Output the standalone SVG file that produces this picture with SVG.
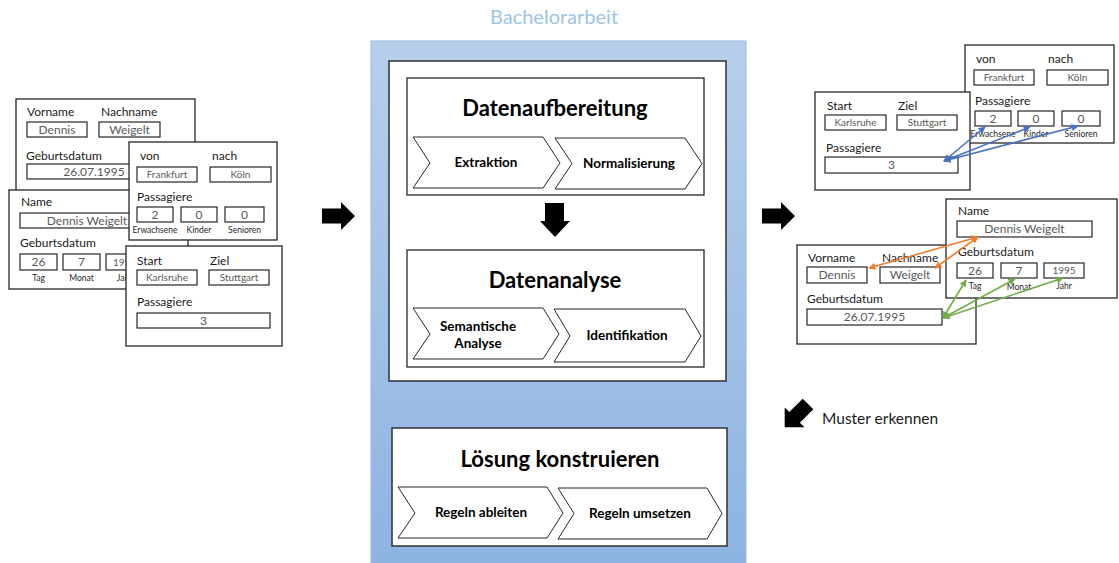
<svg xmlns="http://www.w3.org/2000/svg" width="1119" height="563" viewBox="0 0 1119 563">
  <defs>
    <linearGradient id="panelFill" x1="0" y1="0" x2="0" y2="1">
      <stop offset="0" stop-color="#b7cfeb"/>
      <stop offset="1" stop-color="#8db3e2"/>
    </linearGradient>
    <marker id="headBlue" viewBox="0 0 10 10" refX="9" refY="5" markerWidth="8" markerHeight="7" markerUnits="userSpaceOnUse" orient="auto-start-reverse">
      <path d="M0,0 L10,5 L0,10 z" fill="#4472c4"/>
    </marker>
    <marker id="headOrange" viewBox="0 0 10 10" refX="9" refY="5" markerWidth="8" markerHeight="7" markerUnits="userSpaceOnUse" orient="auto-start-reverse">
      <path d="M0,0 L10,5 L0,10 z" fill="#ed7d31"/>
    </marker>
    <marker id="headGreen" viewBox="0 0 10 10" refX="9" refY="5" markerWidth="8" markerHeight="7" markerUnits="userSpaceOnUse" orient="auto-start-reverse">
      <path d="M0,0 L10,5 L0,10 z" fill="#70ad47"/>
    </marker>
    <path id="blockArrow" d="M-17,-7.5 H2 V-14 L16,0 L2,14 V7.5 H-17 Z"/>
  </defs>
  <style>
    text { font-family: Lato, "Noto Sans", "Liberation Sans", sans-serif; }
    .form { fill: #ffffff; stroke: #262626; stroke-width: 1.3; }
    .fld { fill: #ffffff; stroke: #262626; stroke-width: 1.2; }
    .lbl { font-size: 12px; fill: #1a1a1a; }
    .val { font-size: 12px; fill: #595959; text-anchor: middle; }
    .sval { font-size: 10px; fill: #595959; text-anchor: middle; }
    .tiny { font-size: 8.5px; fill: #262626; text-anchor: middle; }
    .stage { fill: #ffffff; stroke: #3a3a3a; stroke-width: 1.6; }
    .box { fill: #ffffff; stroke: #262626; stroke-width: 1.3; }
    .chev { fill: #ffffff; stroke: #262626; stroke-width: 1; }
    .title { font-size: 22px; font-weight: bold; fill: #000000; text-anchor: middle; }
    .step { font-size: 13.5px; font-weight: bold; fill: #000000; text-anchor: middle; }
    .blk { fill: #000000; }
    .cblue { stroke: #4472c4; stroke-width: 1.6; fill: none; marker-start: url(#headBlue); marker-end: url(#headBlue); }
    .corange { stroke: #ed7d31; stroke-width: 1.6; fill: none; marker-start: url(#headOrange); marker-end: url(#headOrange); }
    .cgreen { stroke: #70ad47; stroke-width: 1.6; fill: none; marker-start: url(#headGreen); marker-end: url(#headGreen); }
  </style>

  <rect width="1119" height="563" fill="#ffffff"/>

  <!-- ===== Input records (left) ===== -->
  <g id="in-person-split">
    <rect class="form" x="16" y="99" width="179" height="98"/>
    <text class="lbl" x="27" y="116">Vorname</text>
    <text class="lbl" x="101" y="116">Nachname</text>
    <rect class="fld" x="27" y="122" width="60" height="15"/>
    <text class="val" x="57" y="134">Dennis</text>
    <rect class="fld" x="99" y="122" width="61" height="15"/>
    <text class="val" x="129.5" y="134">Weigelt</text>
    <text class="lbl" x="26" y="160">Geburtsdatum</text>
    <rect class="fld" x="27" y="164" width="134" height="15"/>
    <text class="val" x="94" y="176">26.07.1995</text>
  </g>

  <g id="in-person-joined">
    <rect class="form" x="9" y="190" width="179" height="99"/>
    <text class="lbl" x="21" y="206">Name</text>
    <rect class="fld" x="20" y="213" width="134" height="15"/>
    <text class="val" x="87" y="225">Dennis Weigelt</text>
    <text class="lbl" x="20" y="247">Geburtsdatum</text>
    <rect class="fld" x="20" y="254" width="37" height="16"/>
    <text class="val" x="38.5" y="266">26</text>
    <rect class="fld" x="63" y="254" width="37" height="16"/>
    <text class="val" x="81.5" y="266">7</text>
    <rect class="fld" x="106" y="254" width="37" height="16"/>
    <text class="sval" x="124.5" y="266">1995</text>
    <text class="tiny" x="38.5" y="281">Tag</text>
    <text class="tiny" x="81.5" y="281">Monat</text>
    <text class="tiny" x="124.5" y="281">Jahr</text>
  </g>

  <g id="in-trip-split">
    <rect class="form" x="129" y="142" width="148" height="98"/>
    <text class="lbl" x="140" y="160">von</text>
    <text class="lbl" x="212" y="160">nach</text>
    <rect class="fld" x="137" y="167" width="60" height="15"/>
    <text class="sval" x="167" y="178">Frankfurt</text>
    <rect class="fld" x="210" y="167" width="61" height="15"/>
    <text class="sval" x="240.5" y="178">Köln</text>
    <text class="lbl" x="137" y="201">Passagiere</text>
    <rect class="fld" x="137" y="207" width="36" height="15"/>
    <text class="val" x="155" y="219">2</text>
    <rect class="fld" x="181" y="207" width="36" height="15"/>
    <text class="val" x="199" y="219">0</text>
    <rect class="fld" x="225" y="207" width="39" height="15"/>
    <text class="val" x="244.5" y="219">0</text>
    <text class="tiny" x="155" y="233">Erwachsene</text>
    <text class="tiny" x="199" y="233">Kinder</text>
    <text class="tiny" x="244.5" y="233">Senioren</text>
  </g>

  <g id="in-trip-total">
    <rect class="form" x="126" y="246" width="156" height="100"/>
    <text class="lbl" x="137" y="265">Start</text>
    <text class="lbl" x="210" y="265">Ziel</text>
    <rect class="fld" x="137" y="270" width="60" height="15"/>
    <text class="sval" x="167" y="281">Karlsruhe</text>
    <rect class="fld" x="209" y="270" width="60" height="15"/>
    <text class="sval" x="239" y="281">Stuttgart</text>
    <text class="lbl" x="137" y="306">Passagiere</text>
    <rect class="fld" x="137" y="313" width="133" height="15"/>
    <text class="val" x="203.5" y="325">3</text>
  </g>

  <use href="#blockArrow" class="blk" transform="translate(339,216)"/>

  <!-- ===== Thesis panel (centre) ===== -->
  <g id="thesis">
    <text x="554" y="24" font-size="20" fill="#9dc3e6" text-anchor="middle">Bachelorarbeit</text>
    <rect x="371" y="41" width="375" height="530" fill="url(#panelFill)" stroke="#9db8dc" stroke-width="1"/>
  </g>

  <g id="stage-analysis">
    <rect class="stage" x="389" y="61" width="337" height="320"/>
  </g>

  <g id="preparation">
    <rect class="box" x="407" y="78" width="297" height="117"/>
    <text class="title" x="555" y="116">Datenaufbereitung</text>
    <polygon class="chev" points="413,137 543,137 560,163 543,188 413,188 430,163"/>
    <text class="step" x="486" y="167">Extraktion</text>
    <polygon class="chev" points="555,138 685,138 702,163.5 685,189 555,189 572,163.5"/>
    <text class="step" x="629" y="168">Normalisierung</text>
  </g>

  <path class="blk" d="M545,203 H564 V221 H570 L555,237 L540,221 H545 Z"/>

  <g id="analysis">
    <rect class="box" x="407" y="250" width="297" height="117"/>
    <text class="title" x="555" y="288">Datenanalyse</text>
    <polygon class="chev" points="413,308 543,308 559,334 543,359 413,359 430,334"/>
    <text class="step" x="478" y="331">Semantische</text>
    <text class="step" x="478" y="348">Analyse</text>
    <polygon class="chev" points="554,309 685,309 701,336 685,362 554,362 570,336"/>
    <text class="step" x="627" y="340">Identifikation</text>
  </g>

  <g id="construction">
    <rect class="stage" x="392" y="428" width="335" height="118"/>
    <text class="title" x="560" y="467">Lösung konstruieren</text>
    <polygon class="chev" points="398,487 547,487 563,513 547,538 398,538 415,513"/>
    <text class="step" x="481" y="517">Regeln ableiten</text>
    <polygon class="chev" points="558,488 707,488 722,513.5 707,539 558,539 574,513.5"/>
    <text class="step" x="640" y="518">Regeln umsetzen</text>
  </g>

  <use href="#blockArrow" class="blk" transform="translate(779,216)"/>

  <!-- ===== Output records (right) ===== -->
  <g id="out-trip-split">
    <rect class="form" x="965" y="45" width="149" height="98"/>
    <text class="lbl" x="976" y="63">von</text>
    <text class="lbl" x="1048" y="63">nach</text>
    <rect class="fld" x="974" y="70" width="60" height="15"/>
    <text class="sval" x="1004" y="81">Frankfurt</text>
    <rect class="fld" x="1047" y="70" width="61" height="15"/>
    <text class="sval" x="1077.5" y="81">Köln</text>
    <text class="lbl" x="975" y="105">Passagiere</text>
    <rect class="fld" x="975" y="111" width="36" height="15"/>
    <text class="val" x="993" y="123">2</text>
    <rect class="fld" x="1018" y="111" width="36" height="15"/>
    <text class="val" x="1036" y="123">0</text>
    <rect class="fld" x="1062" y="111" width="38" height="15"/>
    <text class="val" x="1081" y="123">0</text>
    <text class="tiny" x="993" y="137">Erwachsene</text>
    <text class="tiny" x="1036" y="137">Kinder</text>
    <text class="tiny" x="1081" y="137">Senioren</text>
  </g>

  <g id="out-trip-total">
    <rect class="form" x="815" y="92" width="155" height="98"/>
    <text class="lbl" x="827" y="110">Start</text>
    <text class="lbl" x="898" y="110">Ziel</text>
    <rect class="fld" x="825" y="115" width="61" height="15"/>
    <text class="sval" x="855.5" y="126">Karlsruhe</text>
    <rect class="fld" x="897" y="115" width="60" height="15"/>
    <text class="sval" x="927" y="126">Stuttgart</text>
    <text class="lbl" x="826" y="152">Passagiere</text>
    <rect class="fld" x="825" y="157" width="133" height="16"/>
    <text class="val" x="891.5" y="169">3</text>
  </g>

  <g id="out-person-split">
    <rect class="form" x="797" y="245" width="179" height="99"/>
    <text class="lbl" x="808" y="262">Vorname</text>
    <text class="lbl" x="882" y="262">Nachname</text>
    <rect class="fld" x="807" y="267" width="60" height="16"/>
    <text class="val" x="837" y="279">Dennis</text>
    <rect class="fld" x="880" y="267" width="60" height="16"/>
    <text class="val" x="910" y="279">Weigelt</text>
    <text class="lbl" x="807" y="303">Geburtsdatum</text>
    <rect class="fld" x="807" y="309" width="135" height="16"/>
    <text class="val" x="874.5" y="321">26.07.1995</text>
  </g>

  <g id="out-person-joined">
    <rect class="form" x="946" y="199" width="171" height="99"/>
    <text class="lbl" x="958" y="215">Name</text>
    <rect class="fld" x="957" y="221" width="135" height="16"/>
    <text class="val" x="1024.5" y="233">Dennis Weigelt</text>
    <text class="lbl" x="958" y="256">Geburtsdatum</text>
    <rect class="fld" x="957" y="263" width="36" height="15"/>
    <text class="val" x="975" y="275">26</text>
    <rect class="fld" x="1001" y="263" width="36" height="15"/>
    <text class="val" x="1019" y="275">7</text>
    <rect class="fld" x="1044" y="263" width="40" height="15"/>
    <text class="sval" x="1064" y="274">1995</text>
    <text class="tiny" x="975" y="289">Tag</text>
    <text class="tiny" x="1019" y="290">Monat</text>
    <text class="tiny" x="1064" y="289">Jahr</text>
  </g>

  <!-- field correspondences -->
  <g id="connectors">
    <line class="cblue" x1="944" y1="161" x2="985" y2="127"/>
    <line class="cblue" x1="944" y1="161" x2="1030" y2="127"/>
    <line class="cblue" x1="944" y1="161" x2="1078" y2="126"/>
    <line class="corange" x1="978" y1="237" x2="869" y2="268"/>
    <line class="corange" x1="978" y1="237" x2="935" y2="268"/>
    <line class="cgreen" x1="943" y1="318" x2="966" y2="280"/>
    <line class="cgreen" x1="943" y1="318" x2="1015" y2="279"/>
    <line class="cgreen" x1="943" y1="318" x2="1063" y2="278"/>
  </g>

  <g id="pattern-step">
    <use href="#blockArrow" class="blk" transform="translate(796,416) rotate(135)"/>
    <text x="822" y="424" font-size="15.5" fill="#1a1a1a">Muster erkennen</text>
  </g>
</svg>
